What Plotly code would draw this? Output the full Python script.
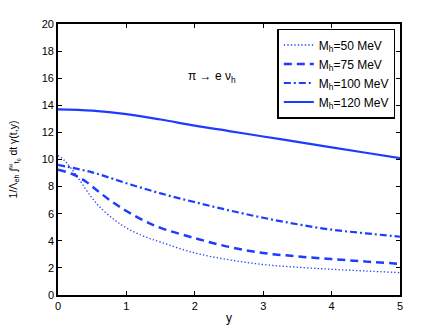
import plotly.graph_objects as go

# ---- data ----
x50 = [0, 0.1, 0.2, 0.3, 0.4, 0.5, 0.6, 0.8, 1.0, 1.25, 1.5, 2.0, 2.5, 3.0, 3.5, 4.0, 4.5, 5.0]
y50 = [10.3, 9.9, 9.3, 8.6, 7.85, 7.15, 6.55, 5.65, 4.95, 4.35, 3.9, 3.1, 2.6, 2.25, 2.05, 1.9, 1.77, 1.65]

x75 = [0, 0.2, 0.4, 0.6, 0.8, 1.0, 1.25, 1.5, 2.0, 2.5, 3.0, 3.5, 4.0, 4.5, 5.0]
y75 = [9.25, 8.95, 8.4, 7.6, 6.85, 6.2, 5.5, 4.95, 4.2, 3.55, 3.1, 2.85, 2.65, 2.47, 2.3]

x100 = [0, 0.5, 1.0, 1.5, 2.0, 2.5, 3.0, 3.5, 4.0, 4.5, 5.0]
y100 = [9.6, 9.05, 8.25, 7.5, 6.85, 6.25, 5.7, 5.22, 4.82, 4.55, 4.3]

x120 = [0, 0.5, 1.0, 1.5, 2.0, 2.5, 3.0, 3.5, 4.0, 4.5, 5.0]
y120 = [13.7, 13.6, 13.35, 12.95, 12.5, 12.1, 11.7, 11.3, 10.9, 10.5, 10.1]

names = ["M<sub>h</sub>=50 MeV", "M<sub>h</sub>=75 MeV",
         "M<sub>h</sub>=100 MeV", "M<sub>h</sub>=120 MeV"]

x_ticks = [0, 1, 2, 3, 4, 5]
y_ticks = [0, 2, 4, 6, 8, 10, 12, 14, 16, 18, 20]

BLUE = "rgb(30,60,255)"
FONT = "Liberation Sans, Arial, sans-serif"

fig = go.Figure()
fig.add_trace(go.Scatter(x=x50, y=y50, mode="lines", name=names[0], line_shape="spline",
                         line=dict(color=BLUE, width=1.3, dash="1.3px,2.2px")))
fig.add_trace(go.Scatter(x=x75, y=y75, mode="lines", name=names[1], line_shape="spline",
                         line=dict(color=BLUE, width=2.5, dash="8px,5px")))
fig.add_trace(go.Scatter(x=x100, y=y100, mode="lines", name=names[2], line_shape="spline",
                         line=dict(color=BLUE, width=2.2, dash="7px,3px,2px,3px")))
fig.add_trace(go.Scatter(x=x120, y=y120, mode="lines", name=names[3], line_shape="spline",
                         line=dict(color=BLUE, width=2.2)))

fig.add_annotation(x=2.25, y=16.1, xref="x", yref="y", showarrow=False,
                   text="π → e ν<sub>h</sub>", font=dict(family=FONT, size=12, color="black"))

axis_common = dict(showline=True, linecolor="black", linewidth=1.6, mirror="allticks",
                   ticks="inside", ticklen=4, tickwidth=1.2, tickcolor="black",
                   showgrid=False, zeroline=False, automargin=False,
                   tickfont=dict(family=FONT, size=11, color="black"))

fig.update_layout(
    width=443, height=332,
    margin=dict(l=58, r=43, t=24, b=37),
    paper_bgcolor="white", plot_bgcolor="white",
    font=dict(family=FONT, size=11, color="black"),
    xaxis=dict(range=[0, 5], tickvals=x_ticks,
               title=dict(text="y", standoff=3, font=dict(family=FONT, size=12)),
               **axis_common),
    yaxis=dict(range=[0, 20], tickvals=y_ticks,
               title=dict(text="1/Λ<sub>eh</sub> ∫<sup>∞</sup><sub>t<sub>0</sub></sub> dt γ(t,y)",
                          standoff=22, font=dict(family=FONT, size=10.5)),
               **axis_common),
    legend=dict(x=0.641, y=0.982, xanchor="left", yanchor="top",
                bordercolor="black", borderwidth=1.6, bgcolor="white",
                font=dict(family=FONT, size=12, color="black"),
                tracegroupgap=0),
    showlegend=True,
)

fig.write_html("out.html", config={"displayModeBar": False},
               post_script="document.body.style.margin='0';document.body.style.padding='0';"
                           "document.body.style.overflow='hidden';")
